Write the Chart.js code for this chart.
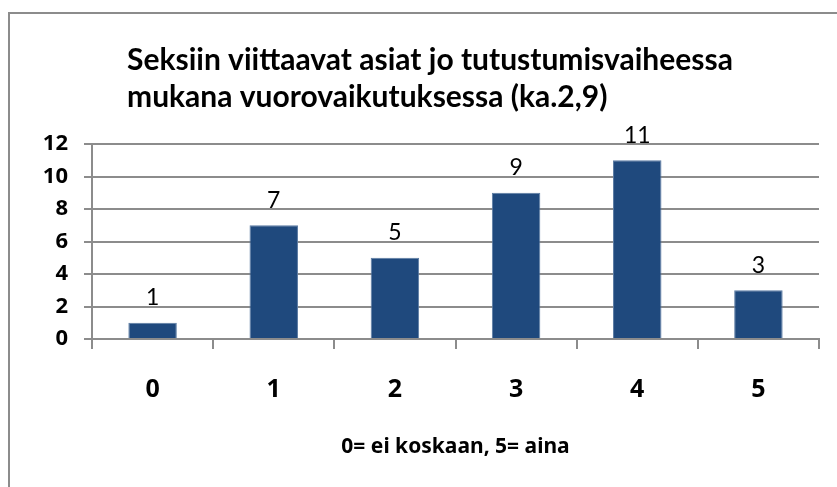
<!DOCTYPE html>
<html>
<head>
<meta charset="utf-8">
<script src="https://cdn.jsdelivr.net/npm/chart.js@4"></script>
<style>
    html, body { margin: 0; padding: 0; background: #fff; }
    #wrap { position: relative; width: 837px; height: 487px; overflow: hidden; }
    #frame { position: absolute; left: 8px; top: 12px; width: 860px; height: 500px; border: 2px solid #8c8c8c; }
    canvas { position: absolute; left: 0; top: 0; }
</style>
</head>
<body>
<div id="wrap">
    <div id="frame"></div>
    <canvas id="chart" width="837" height="487"></canvas>
</div>
<script>
// Chart data
const categories = ['0', '1', '2', '3', '4', '5'];
const counts = [1, 7, 5, 9, 11, 3];
const titleLines = ['Seksiin viittaavat asiat jo tutustumisvaiheessa', 'mukana vuorovaikutuksessa (ka.2,9)'];
const axisTitle = '0= ei koskaan, 5= aina';

const fontFamily = 'Lato, "Noto Sans", sans-serif';
const boldFamily = '"Noto Sans", Lato, sans-serif';
const gridColor = '#8c8c8c';

// Draws the two-line title, left aligned like the original
const titlePlugin = {
    id: 'leftTitle',
    afterDraw(chart) {
        const ctx = chart.ctx;
        ctx.save();
        ctx.font = 'bold 30px ' + fontFamily;
        ctx.fillStyle = '#000';
        ctx.textAlign = 'left';
        ctx.textBaseline = 'middle';
        ctx.fillText(titleLines[0], 127, 60);
        ctx.fillText(titleLines[1], 127, 97);
        ctx.restore();
    }
};

// Value labels above each bar
const valueLabels = {
    id: 'valueLabels',
    afterDatasetsDraw(chart) {
        const ctx = chart.ctx;
        const meta = chart.getDatasetMeta(0);
        ctx.save();
        ctx.font = '23px ' + fontFamily;
        ctx.fillStyle = '#000';
        ctx.textAlign = 'center';
        ctx.textBaseline = 'middle';
        meta.data.forEach((bar, i) => {
            ctx.fillText(String(counts[i]), bar.x, bar.y - 25);
        });
        ctx.restore();
    }
};

new Chart(document.getElementById('chart'), {
    type: 'bar',
    data: {
        labels: categories,
        datasets: [{
            data: counts,
            backgroundColor: '#1F497D',
            borderColor: '#5b7ba3',
            borderWidth: 1,
            barPercentage: 0.4,
            categoryPercentage: 1.0
        }]
    },
    options: {
        responsive: false,
        animation: false,
        layout: { padding: { left: 0, right: 18, top: 144, bottom: 27 } },
        plugins: {
            legend: { display: false },
            title: { display: false },
            tooltip: { enabled: false }
        },
        scales: {
            x: {
                grid: {
                    offset: true,
                    drawOnChartArea: false,
                    drawTicks: true,
                    tickLength: 10,
                    color: gridColor,
                    lineWidth: 2
                },
                border: { color: gridColor, width: 2 },
                ticks: {
                    color: '#000',
                    padding: 26,
                    font: { family: boldFamily, size: 25, weight: 'bold' }
                },
                title: {
                    display: true,
                    text: axisTitle,
                    color: '#000',
                    padding: { top: 24, bottom: 0 },
                    font: { family: boldFamily, size: 21, weight: 'bold' }
                },
                afterFit(scale) { scale.height = 121; }
            },
            y: {
                min: 0,
                max: 12,
                ticks: {
                    stepSize: 2,
                    color: '#000',
                    padding: 16,
                    font: { family: boldFamily, size: 22, weight: 'bold' }
                },
                grid: {
                    color: gridColor,
                    lineWidth: 2,
                    tickLength: 8
                },
                border: { color: gridColor, width: 2 },
                afterFit(scale) { scale.width = 92; }
            }
        }
    },
    plugins: [titlePlugin, valueLabels]
});
</script>
</body>
</html>
